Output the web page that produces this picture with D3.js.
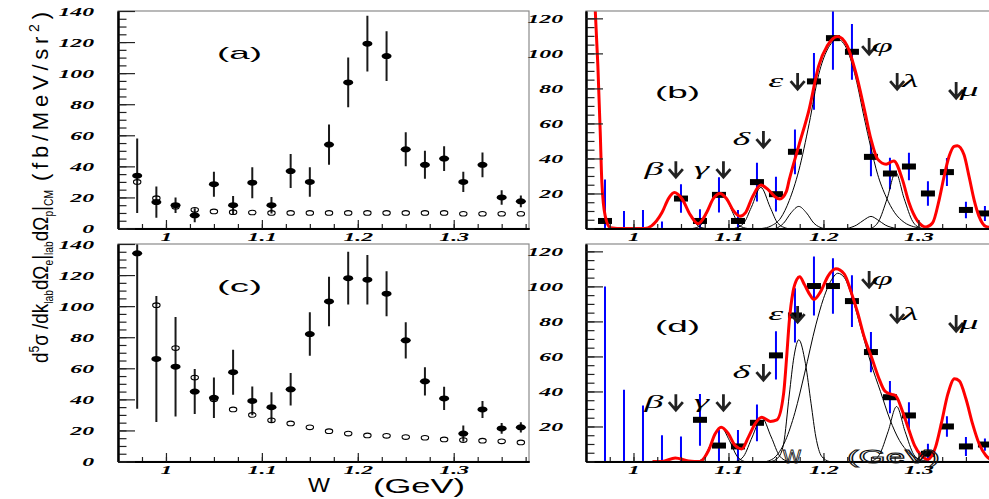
<!DOCTYPE html>
<html>
<head>
<meta charset="utf-8">
<script src="https://cdn.jsdelivr.net/npm/d3@7"></script>
<style>
  body { margin: 0; background: #fff; }
  svg { display: block; }
</style>
</head>
<body>
<div id="vis"></div>
<script>
// Frame size
const FRAME_WIDTH = 989;
const FRAME_HEIGHT = 499;

// W bins (GeV) shared by all four panels
const W_BINS = [0.97, 0.99, 1.01, 1.03, 1.05, 1.07, 1.09, 1.11, 1.13, 1.15, 1.17,
                1.19, 1.21, 1.23, 1.25, 1.27, 1.29, 1.31, 1.33, 1.35, 1.37];

// axis ticks
const X_TICKS = [1, 1.1, 1.2, 1.3];
const X_TICK_LABELS = ["1", "1.1", "1.2", "1.3"];
const Y_TICKS_LEFT = [0, 20, 40, 60, 80, 100, 120, 140];
const Y_TICK_LABELS_LEFT = ["0", "20", "40", "60", "80", "100", "120", "140"];
const Y_TICKS_RIGHT = [20, 40, 60, 80, 100, 120];
const Y_TICK_LABELS_RIGHT = ["20", "40", "60", "80", "100", "120"];

// panel (a): filled = measured, open = second set
const A_FILLED = [34, 17, 15, 8.5, 28.5, 15, 29.5, 15, 37, 30, 54,
                  94, 119, 111, 51, 41, 45, 30, 41, 20, 17.5];
const A_FILLED_ERR = [24, 10, 5, 4.5, 8, 6, 10, 5.3, 11, 9.5, 13,
                      16, 18, 16, 11, 9, 8, 6.5, 8, 4.7, 3.8];
const A_OPEN = [30, 19.5, 14, 12, 11, 10.5, 10.3, 10, 10, 10, 10,
                10, 10, 10, 10, 10, 10, 9.5, 9.5, 9.5, 9.5];

// panel (c)
const C_FILLED = [134, 66, 61, 45, 41, 57.5, 39, 35, 46.5, 82, 103,
                  118, 117, 108, 78, 51.6, 40.6, 18, 33.5, 21.3, 22];
const C_FILLED_ERR = [100, 40.5, 32, 14.5, 13, 14.5, 9.3, 9.5, 10.5, 14, 16,
                      17, 16, 14.5, 11.7, 9.1, 7.5, 5.2, 5.5, 3.5, 3.3];
const C_OPEN = [null, 100.6, 73, 54, 40, 33.5, 30, 26.5, 24.5, 22, 19.5,
                18, 16.8, 16.5, 15.7, 15.3, 14.2, 13.8, 13.4, 13, 12.3];

// panel (b): data with errors
const B_DATA = [4.3, -8, -8, -6, 17.1, 4.3, 19.2, 4.3, 26.5, 19.6, 43.8,
                84, 108.7, 100.9, 40.9, 31.4, 35.4, 20, 32.2, 10.6, 8.6];
const B_ERR = [23.7, 18, 18.6, 10, 8.1, 6.7, 10, 6.3, 11.1, 9.9, 12.8,
               16.2, 18.1, 15.9, 11, 9, 7.9, 7, 8, 4.7, 4.3];

// panel (b): total fit
const B_FIT = [[0.958, 150], [0.9597, 125], [0.9625, 92.9], [0.965, 54.9], [0.9667, 26.3],
  [0.9702, 7.2], [0.9755, 0.5], [0.99, 0], [1.012, 0], [1.019, 1.5], [1.030, 9.1],
  [1.037, 17.2], [1.043, 20.5], [1.051, 17], [1.060, 7.6], [1.068, 2.7], [1.077, 9.1],
  [1.084, 17], [1.091, 20], [1.098, 17], [1.105, 10.3], [1.112, 7], [1.118, 9.1],
  [1.125, 17.8], [1.134, 24.8], [1.142, 22.1], [1.149, 18.1], [1.154, 16.8], [1.161, 21.2],
  [1.164, 27.9], [1.174, 47.2], [1.185, 68.2], [1.195, 92.9], [1.204, 104.3], [1.215, 109.7],
  [1.225, 104.3], [1.234, 89.1], [1.243, 68.2], [1.250, 51], [1.257, 39.6], [1.266, 36.7],
  [1.274, 38.6], [1.283, 28.2], [1.290, 14.9], [1.299, 4.4], [1.308, 0.9], [1.3148, 3.1],
  [1.3218, 16.4], [1.327, 29.7], [1.3323, 41.2], [1.3376, 46.9], [1.341, 47.3], [1.348, 42.1],
  [1.3533, 29.7], [1.3586, 16.4], [1.3638, 6.9], [1.3708, 1.2], [1.3785, 0.3]];

// panel (b): single peaks
const B_BETA = [[1.012, 0], [1.019, 1.5], [1.030, 9.1], [1.037, 17.2], [1.043, 20.5],
  [1.051, 17], [1.060, 7.6], [1.068, 1.5], [1.076, 0]];
const B_GAMMA = [[1.062, 0], [1.070, 1.5], [1.077, 8.5], [1.084, 17], [1.091, 20],
  [1.098, 17], [1.105, 8.5], [1.112, 1.5], [1.120, 0]];
const B_DELTA = [[1.106, 0], [1.116, 3], [1.124, 12], [1.134, 23.5], [1.144, 12],
  [1.152, 3], [1.162, 0]];
const B_EPS = [[1.150, 0], [1.158, 3], [1.166, 9], [1.174, 12.6], [1.182, 9],
  [1.190, 3], [1.200, 0]];
const B_MAIN = [[1.135, 0], [1.145, 1.5], [1.155, 6], [1.164, 16], [1.174, 33], [1.185, 60],
  [1.195, 88], [1.204, 102], [1.215, 108], [1.225, 102], [1.234, 86], [1.243, 63],
  [1.250, 46], [1.257, 31], [1.266, 18], [1.275, 9], [1.285, 3.5], [1.295, 1], [1.305, 0]];
const B_SMALL = [[1.225, 0], [1.235, 2], [1.243, 5], [1.250, 6.9], [1.257, 5],
  [1.265, 2], [1.277, 0]];
const B_LAMBDA = [[1.250, 0], [1.258, 4], [1.267, 17], [1.276, 32], [1.285, 17],
  [1.294, 4], [1.303, 0]];
const B_MU = [[1.306, 0], [1.3148, 3.1], [1.3218, 16.4], [1.327, 29.7], [1.3323, 41.2],
  [1.3376, 46.9], [1.341, 47.3], [1.348, 42.1], [1.3533, 29.7], [1.3586, 16.4],
  [1.3638, 6.9], [1.3708, 1.2], [1.3785, 0.3]];

// panel (d): data with errors
const D_DATA = [-20, -10, -10, -8, -8, 23.8, 9.1, 8.6, 22.1, 60.6, 83.4,
                100.2, 100.2, 91.6, 62.5, 36.7, 26.3, 4.4, 20, 8.6, 9.7];
const D_ERR = [120, 51, 42, 23, 22.3, 14.8, 9, 9.4, 10.5, 13.8, 15.5,
               16.8, 15.8, 14.8, 11.5, 9.2, 7.5, 5.7, 5.9, 5.4, 3.5];

// panel (d): total fit
const D_FIT = [[1.020, 0], [1.030, 0], [1.044, 2], [1.058, 0.3], [1.070, 0], [1.079, 6.3],
  [1.086, 15.8], [1.0923, 19.6], [1.100, 15.8], [1.107, 9.1], [1.114, 7.2], [1.121, 13.9],
  [1.128, 21.5], [1.135, 25.3], [1.144, 22.9], [1.151, 23.8], [1.158, 38.6], [1.1615, 61.5],
  [1.164, 80], [1.168, 97], [1.172, 104], [1.175, 105.5], [1.180, 101], [1.186, 95],
  [1.190, 92.5], [1.197, 97], [1.205, 106], [1.213, 110], [1.222, 107], [1.229, 97],
  [1.236, 85], [1.243, 71], [1.251, 59], [1.258, 48], [1.265, 40], [1.272, 38.3],
  [1.276, 37.6], [1.283, 29], [1.289, 19.6], [1.296, 9.1], [1.303, 3.4], [1.310, 1.2],
  [1.318, 8.2], [1.324, 21.5], [1.331, 38.6], [1.338, 47.2], [1.343, 46], [1.350, 35.8],
  [1.357, 21.5], [1.364, 10], [1.371, 3.4], [1.3785, 0.5]];

// panel (d): single peaks
const D_BETA = [[1.030, 0], [1.037, 1], [1.044, 2], [1.051, 1], [1.058, 0]];
const D_GAMMA = [[1.068, 0], [1.075, 3], [1.083, 12], [1.092, 19.6], [1.101, 12],
  [1.109, 3], [1.117, 0]];
const D_DELTA = [[1.108, 0], [1.116, 3], [1.125, 14], [1.135, 25], [1.145, 14],
  [1.154, 3], [1.163, 0]];
const D_EPS = [[1.145, 0], [1.152, 2], [1.158, 10], [1.164, 38], [1.169, 60], [1.174, 69.5],
  [1.181, 56], [1.187, 33], [1.192, 14], [1.198, 3], [1.206, 0]];
const D_MAIN = [[1.140, 0], [1.150, 3], [1.160, 12], [1.170, 28], [1.180, 50], [1.192, 78],
  [1.200, 93], [1.210, 105], [1.215, 107.5], [1.222, 105], [1.230, 94], [1.240, 75],
  [1.250, 56], [1.260, 40], [1.270, 24], [1.280, 12], [1.290, 5], [1.300, 1.5], [1.310, 0]];
const D_LAMBDA = [[1.250, 0], [1.259, 4], [1.268, 17], [1.277, 31.4], [1.286, 17],
  [1.295, 4], [1.304, 0]];
const D_MU = [[1.305, 0], [1.310, 1.2], [1.318, 8.2], [1.324, 21.5], [1.331, 38.6],
  [1.338, 47.2], [1.343, 46], [1.350, 35.8], [1.357, 21.5], [1.364, 10], [1.371, 3.4],
  [1.3785, 0.5]];

// resonance markers: name, W of the arrow, height of the arrow tip
const RES_NAMES = ["\u03b2", "\u03b3", "\u03b4", "\u03b5", "\u03c6", "\u03bb", "\u03bc"];
const RES_W = [1.0446, 1.0947, 1.1368, 1.1728, 1.2481, 1.2776, 1.3397];
const RES_TIP = [29.3, 29.3, 46.5, 79.6, 99.6, 79.6, 74.5];

// plot boxes for the four panels
const BOX_A = {left: 118, right: 529, top: 11, bottom: 228.5};
const BOX_B = {left: 586, right: 993, top: 11, bottom: 228.5};
const BOX_C = {left: 118, right: 529, top: 244, bottom: 461.5};
const BOX_D = {left: 586, right: 993, top: 244, bottom: 461.5};

const X_DOMAIN = [0.95, 1.3785];
const X_MINOR = d3.range(0.975, 1.378, 0.025);

const SVG = d3.select("#vis")
  .append("svg")
    .attr("width", FRAME_WIDTH)
    .attr("height", FRAME_HEIGHT);

SVG.append("rect").attr("width", FRAME_WIDTH).attr("height", FRAME_HEIGHT).attr("fill", "#fff");

const DEFS = SVG.append("defs");

// text squeezed/stretched sideways
function wideText(parent, x, y, str, size, sx, opts) {
  opts = opts || {};
  return parent.append("text")
    .attr("transform", "translate(" + x + "," + y + ") scale(" + sx + ",1)")
    .attr("text-anchor", opts.anchor || "middle")
    .attr("font-family", opts.family || "Liberation Serif")
    .attr("font-style", opts.style || "normal")
    .attr("font-weight", opts.weight || "normal")
    .attr("font-size", size)
    .attr("fill", "#000")
    .text(str);
}

function makeScales(box, yMax) {
  return {
    x: d3.scaleLinear().domain(X_DOMAIN).range([box.left, box.right]),
    y: d3.scaleLinear().domain([0, yMax]).range([box.bottom, box.top])
  };
}

function makeClip(id, box) {
  DEFS.append("clipPath").attr("id", id)
    .append("rect")
      .attr("x", box.left).attr("y", box.top)
      .attr("width", box.right - box.left).attr("height", box.bottom - box.top);
}

function styleTickLabels(g, dx) {
  g.selectAll("text")
    .attr("font-family", "Liberation Serif")
    .attr("font-weight", "bold")
    .attr("font-style", "italic")
    .attr("font-size", 12.5)
    .attr("fill", "#000");
  if (dx !== undefined) {
    g.selectAll("text").attr("x", dx / 1.9);
  }
  g.selectAll("text").attr("transform", "scale(1.9,1)");
}

// frame, inward ticks and labels
function drawAxes(box, sc, yMax, yTicks, yLabels, labelGap) {
  SVG.append("rect")
    .attr("x", box.left).attr("y", box.top)
    .attr("width", box.right - box.left).attr("height", box.bottom - box.top)
    .attr("fill", "none").attr("stroke", "#8a8a8a").attr("stroke-width", 1.2);

  const xMinor = SVG.append("g")
    .attr("transform", "translate(0," + box.bottom + ")")
    .call(d3.axisBottom(sc.x).tickValues(X_MINOR).tickSizeInner(-4.5).tickSizeOuter(0).tickFormat(() => ""));
  const xMajor = SVG.append("g")
    .attr("transform", "translate(0," + box.bottom + ")")
    .call(d3.axisBottom(sc.x).tickValues(X_TICKS).tickSizeInner(-8.5).tickSizeOuter(0)
      .tickPadding(4).tickFormat((d, i) => X_TICK_LABELS[i]));
  styleTickLabels(xMajor);

  const yMinor = SVG.append("g")
    .attr("transform", "translate(" + box.left + ",0)")
    .call(d3.axisLeft(sc.y).tickValues(d3.range(0, yMax, 5)).tickSizeInner(-8.5).tickSizeOuter(0).tickFormat(() => ""));
  const yMajor = SVG.append("g")
    .attr("transform", "translate(" + box.left + ",0)")
    .call(d3.axisLeft(sc.y).tickValues(yTicks).tickSizeInner(-17).tickSizeOuter(0)
      .tickPadding(labelGap).tickFormat((d, i) => yLabels[i]));
  styleTickLabels(yMajor, -labelGap);

  [xMinor, xMajor, yMinor, yMajor].forEach((g) => {
    g.attr("color", "#000");
    g.select(".domain").attr("stroke-width", 2);
    g.selectAll(".tick line").attr("stroke-width", 1.2).attr("stroke", "#222");
  });
}

// panels (a) and (c): filled points with errors plus open points
function drawDotPanel(box, clipId, vals, errs, opens) {
  const sc = makeScales(box, 140);
  makeClip(clipId, box);
  const rows = W_BINS.map((w, i) => ({w: w, v: vals[i], e: errs[i], o: opens[i]}));
  const g = SVG.append("g").attr("clip-path", "url(#" + clipId + ")");

  g.selectAll(".err").data(rows).enter().append("line")
    .attr("x1", (d) => sc.x(d.w)).attr("x2", (d) => sc.x(d.w))
    .attr("y1", (d) => sc.y(d.v - d.e)).attr("y2", (d) => sc.y(d.v + d.e))
    .attr("stroke", "#1a1a1a").attr("stroke-width", 2);

  g.selectAll(".pt").data(rows).enter().append("ellipse")
    .attr("cx", (d) => sc.x(d.w)).attr("cy", (d) => sc.y(d.v))
    .attr("rx", 5).attr("ry", 3)
    .attr("fill", "#000");

  g.selectAll(".open").data(rows.filter((d) => d.o !== null)).enter().append("ellipse")
    .attr("cx", (d) => sc.x(d.w)).attr("cy", (d) => sc.y(d.o))
    .attr("rx", 3.7).attr("ry", 2.3)
    .attr("fill", "none").attr("stroke", "#000").attr("stroke-width", 1.1);

  drawAxes(box, sc, 140, Y_TICKS_LEFT, Y_TICK_LABELS_LEFT, 24);
}

// panels (b) and (d): data, single peaks and the total fit
function drawFitPanel(box, clipId, vals, errs, fit, peaks) {
  const sc = makeScales(box, 124.2);
  makeClip(clipId, box);
  const rows = W_BINS.map((w, i) => ({w: w, v: vals[i], e: errs[i]}));
  const g = SVG.append("g").attr("clip-path", "url(#" + clipId + ")");

  g.selectAll(".err").data(rows).enter().append("line")
    .attr("x1", (d) => sc.x(d.w)).attr("x2", (d) => sc.x(d.w))
    .attr("y1", (d) => sc.y(d.v - d.e)).attr("y2", (d) => sc.y(d.v + d.e))
    .attr("stroke", "#0000ff").attr("stroke-width", 2);

  g.selectAll(".pt").data(rows).enter().append("rect")
    .attr("x", (d) => sc.x(d.w) - 7).attr("y", (d) => sc.y(d.v) - 3)
    .attr("width", 14).attr("height", 6)
    .attr("fill", "#000");

  const line = d3.line()
    .x((d) => sc.x(d[0]))
    .y((d) => sc.y(d[1]))
    .curve(d3.curveMonotoneX);

  peaks.forEach((p) => {
    g.append("path").attr("d", line(p))
      .attr("fill", "none").attr("stroke", "#000").attr("stroke-width", 1);
  });

  g.append("path").attr("d", line(fit))
    .attr("fill", "none").attr("stroke", "#ff0000").attr("stroke-width", 3);

  drawAxes(box, sc, 124.2, Y_TICKS_RIGHT, Y_TICK_LABELS_RIGHT, 23);

  // resonance arrows with their names
  RES_NAMES.forEach((name, i) => {
    const x = sc.x(RES_W[i]);
    const y = sc.y(RES_TIP[i]);
    SVG.append("path")
      .attr("d", "M" + x + "," + (y - 16) + "V" + (y - 1) +
                 "M" + (x - 7) + "," + (y - 8) + "L" + x + "," + y + "L" + (x + 7) + "," + (y - 8))
      .attr("fill", "none").attr("stroke", "#222").attr("stroke-width", 2.8);
    const lx = i < 4 ? x - 22 : x + 13;
    wideText(SVG, lx, y - 2, name, 19, 2, {style: "italic"});
  });
}

drawDotPanel(BOX_A, "clip-a", A_FILLED, A_FILLED_ERR, A_OPEN);
drawDotPanel(BOX_C, "clip-c", C_FILLED, C_FILLED_ERR, C_OPEN);
drawFitPanel(BOX_B, "clip-b", B_DATA, B_ERR, B_FIT,
  [B_BETA, B_GAMMA, B_DELTA, B_EPS, B_MAIN, B_SMALL, B_LAMBDA, B_MU]);
drawFitPanel(BOX_D, "clip-d", D_DATA, D_ERR, D_FIT,
  [D_BETA, D_GAMMA, D_DELTA, D_EPS, D_MAIN, D_LAMBDA, D_MU]);

// panel tags
[["(a)", 217, 58.5], ["(b)", 655, 98], ["(c)", 217, 291.5], ["(d)", 655, 331.6]].forEach((t) => {
  SVG.append("text")
    .attr("x", t[1]).attr("y", t[2])
    .attr("font-family", "Liberation Sans").attr("font-size", 17)
    .attr("textLength", 45).attr("lengthAdjust", "spacingAndGlyphs")
    .text(t[0]);
});

// x axis title under panel (c)
function sansText(x, y, str, size, len, outline) {
  const t = SVG.append("text")
    .attr("x", x).attr("y", y)
    .attr("font-family", "Liberation Sans").attr("font-size", size)
    .attr("textLength", len).attr("lengthAdjust", "spacingAndGlyphs")
    .text(str);
  if (outline) {
    t.attr("fill", "none").attr("stroke", "#111").attr("stroke-width", 0.9);
  } else {
    t.attr("fill", "#000");
  }
}
sansText(308, 492, "W", 21, 22, false);
sansText(373, 493, "(GeV)", 20, 92, false);
// the same title repeated inside panel (d)
sansText(783, 463, "W", 19, 18, true);
sansText(847, 463, "(GeV)", 19, 93, true);

// y axis title, rotated
const yTitle1 = SVG.append("text")
  .attr("transform", "translate(48,363) rotate(-90)")
  .attr("font-family", "Liberation Sans").attr("font-size", 22)
  .attr("textLength", 173).attr("lengthAdjust", "spacingAndGlyphs");
yTitle1.append("tspan").text("d");
yTitle1.append("tspan").attr("dy", -9).attr("font-size", 14).text("5");
yTitle1.append("tspan").attr("dy", 9).text("\u03c3 /dk");
yTitle1.append("tspan").attr("dy", 5).attr("font-size", 12).text("lab");
yTitle1.append("tspan").attr("dy", -5).text("d\u03a9");
yTitle1.append("tspan").attr("dy", 5).attr("font-size", 12).text("e");
yTitle1.append("tspan").attr("dy", -5).text("|");
yTitle1.append("tspan").attr("dy", 5).attr("font-size", 12).text("lab");
yTitle1.append("tspan").attr("dy", -5).text("d\u03a9");
yTitle1.append("tspan").attr("dy", 5).attr("font-size", 12).text("p");
yTitle1.append("tspan").attr("dy", -5).text("|");
yTitle1.append("tspan").attr("dy", 5).attr("font-size", 12).text("CM");

const yTitle2 = SVG.append("text")
  .attr("transform", "translate(48,181) rotate(-90)")
  .attr("font-family", "Liberation Sans").attr("font-size", 22)
  .attr("textLength", 169).attr("lengthAdjust", "spacing");
yTitle2.append("tspan").text("(fb/MeV/sr");
yTitle2.append("tspan").attr("dy", -9).attr("font-size", 14).text("2");
yTitle2.append("tspan").attr("dy", 9).text(")");
</script>
</body>
</html>
